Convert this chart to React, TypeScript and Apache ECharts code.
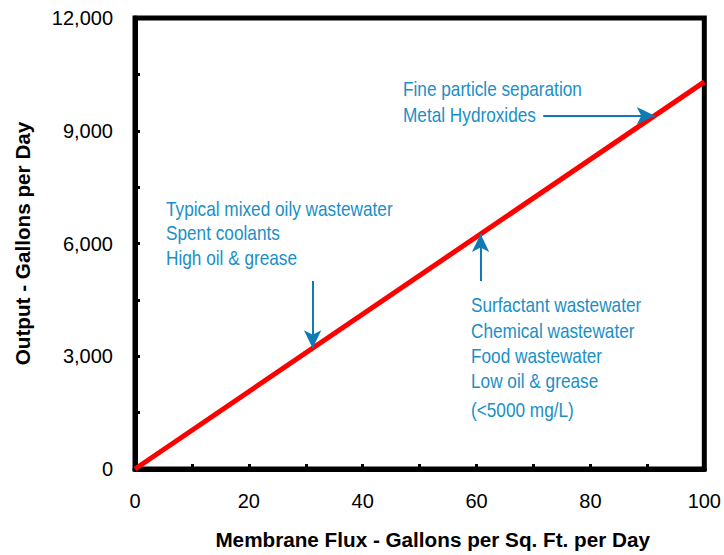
import React, { useEffect, useRef } from "react";
import * as echarts from "echarts";

// Data
const fluxValues = [0, 100];
const outputValues = [0, 10300];

const yTickStep = 1500;
const yLabelStep = 3000;
const xTickStep = 10;
const xLabelStep = 20;

// Arrows: [fromX, fromY, toX, toY] in data units
const arrowFine = [71.7, 9400, 91.3, 9400];
const arrowTypical = [31.2, 5000, 31.2, 3215];
const arrowSurfactant = [60.7, 5000, 60.7, 6250];

const textFine = ["Fine particle separation", "Metal Hydroxides"];
const textTypical = ["Typical mixed oily wastewater", "Spent coolants", "High oil & grease"];
const textSurfactant = ["Surfactant wastewater", "Chemical wastewater", "Food wastewater", "Low oil & grease", "(<5000 mg/L)"];

const TEXT_BLUE = "#1a8fc6";
const ARROW_BLUE = "#0e7bb5";
const SANS = "'Liberation Sans', Arial, sans-serif";

function lines(texts: string[], x: number, baselines: number[]) {
  return texts.map((t, i) => ({
    type: "text",
    x,
    y: baselines[i] - 7,
    scaleX: 0.82,
    silent: true,
    style: {
      text: t,
      fill: TEXT_BLUE,
      font: `21px ${SANS}`,
      verticalAlign: "middle",
      align: "left",
    },
  }));
}

function arrow(a: number[]) {
  return [
    { coord: [a[0], a[1]], symbol: "none" },
    { coord: [a[2], a[3]], symbol: "arrow", symbolSize: [13, 18] },
  ];
}

export default function App() {
  const ref = useRef<HTMLDivElement>(null);
  useEffect(() => {
    if (!ref.current) return;
    const chart = echarts.init(ref.current, null, { renderer: "svg" });
    chart.setOption({
      animation: false,
      backgroundColor: "#fff",
      grid: {
        left: 135,
        right: 17,
        top: 18,
        bottom: 76,
        show: true,
        borderColor: "#000",
        borderWidth: 5,
      },
      xAxis: {
        type: "value",
        min: 0,
        max: 100,
        interval: xTickStep,
        name: "Membrane Flux - Gallons per Sq. Ft. per Day",
        nameLocation: "middle",
        nameGap: 60,
        nameTextStyle: { fontFamily: SANS, fontWeight: "bold", fontSize: 20.7, color: "#000", padding: [0, 0, 0, 26] },
        axisLine: { lineStyle: { color: "#000", width: 5 } },
        axisTick: { inside: true, length: 5, lineStyle: { color: "#000", width: 3 } },
        axisLabel: {
          margin: 22,
          fontFamily: SANS,
          fontSize: 20,
          color: "#000",
          formatter: (v: number) => (v % xLabelStep === 0 ? String(v) : ""),
        },
        splitLine: { show: false },
      },
      yAxis: {
        type: "value",
        min: 0,
        max: 12000,
        interval: yTickStep,
        name: "Output - Gallons per Day",
        nameLocation: "middle",
        nameGap: 102,
        nameTextStyle: { fontFamily: SANS, fontWeight: "bold", fontSize: 20.7, color: "#000" },
        axisLine: { lineStyle: { color: "#000", width: 5 } },
        axisTick: { inside: true, length: 5, lineStyle: { color: "#000", width: 3 } },
        axisLabel: {
          margin: 22,
          fontFamily: SANS,
          fontSize: 20,
          color: "#000",
          formatter: (v: number) => (v % yLabelStep === 0 ? v.toLocaleString("en-US") : ""),
        },
        splitLine: { show: false },
      },
      series: [
        {
          type: "line",
          data: fluxValues.map((x, i) => [x, outputValues[i]]),
          showSymbol: false,
          symbol: "none",
          lineStyle: { color: "#ff0000", width: 5 },
          z: 3,
          markLine: {
            silent: true,
            animation: false,
            label: { show: false },
            lineStyle: { color: ARROW_BLUE, width: 2, type: "solid" },
            emphasis: { disabled: true },
            data: [arrow(arrowFine), arrow(arrowTypical), arrow(arrowSurfactant)],
          },
        },
      ],
      graphic: [
        ...lines(textFine, 403, [96, 122]),
        ...lines(textTypical, 166, [216, 240, 265]),
        ...lines(textSurfactant, 471, [312, 338, 363, 388, 417]),
      ],
    });
    return () => chart.dispose();
  }, []);
  return <div ref={ref} style={{ position: "fixed", left: 0, top: 0, width: 724, height: 555 }} />;
}
